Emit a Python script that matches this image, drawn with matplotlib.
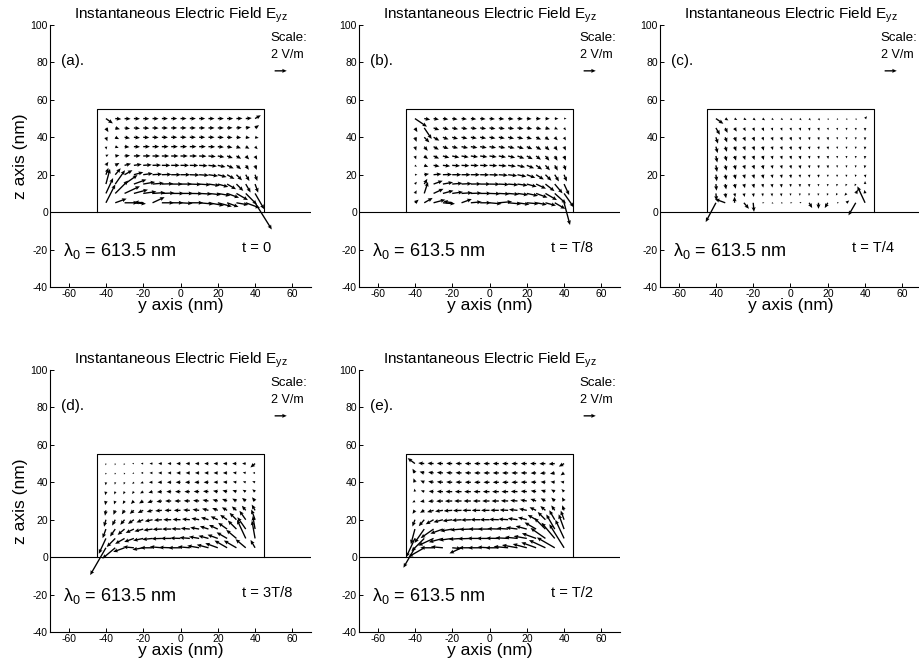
import numpy as np
import matplotlib.pyplot as plt

plt.rcParams['font.family'] = 'Liberation Sans'
plt.rcParams['mathtext.fontset'] = 'custom'
plt.rcParams['mathtext.rm'] = 'Liberation Sans'
plt.rcParams['axes.unicode_minus'] = False

# grid of the field samples inside the particle (nm)
y_cols = [-40, -35, -30, -25, -20, -15, -10, -5, 0, 5, 10, 15, 20, 25, 30, 35, 40]
z_rows = [50, 45, 40, 35, 30, 25, 20, 15, 10, 5]

# particle cross-section (nm)
box_y = [-45, 45]
box_z = [0, 55]

# field direction (deg, ccw from +y) and magnitude (V/m), rows from z=50 down to z=5
ang_a = [
    [-35, -5, -3, -2, -2, -1, 0, 0, 0, 0, 0, 0, 0, 0, 2, 5, 30],
    [-60, -15, -8, -5, -3, -2, -1, 0, 0, 0, 0, 0, 0, 2, 5, 10, 35],
    [-70, -25, -10, -5, -3, -2, -1, 0, 0, 0, 0, 0, -2, -3, -5, -8, -10],
    [-80, -20, -5, -2, 0, 0, 0, 0, 0, 0, 0, -2, -5, -10, -20, -30, -45],
    [30, 10, 5, 2, 1, 0, 0, 0, 0, 0, -2, -5, -10, -20, -30, -45, -60],
    [55, 30, 15, 8, 4, 2, 0, 0, 0, -1, -3, -6, -12, -25, -40, -55, -70],
    [70, 50, 30, 15, 8, 4, 2, 0, 0, -2, -4, -8, -15, -30, -45, -60, -70],
    [75, 55, 35, 20, 10, 5, 2, 0, 0, -2, -4, -8, -15, -30, -45, -60, -70],
    [65, 45, 25, 15, 8, 4, 2, 0, 0, -1, -3, -6, -10, -20, -30, -45, -60],
    [63, 20, 0, -5, 175, 25, 0, 0, -3, 0, -5, -10, -15, -20, -10, -20, -58],
]
mag_a = [
    [1.4, 1.0, 1.0, 1.0, 1.0, 1.0, 1.0, 1.0, 1.0, 1.0, 1.0, 1.0, 1.0, 1.0, 1.0, 1.0, 1.1],
    [0.8, 0.8, 0.9, 1.0, 1.0, 1.0, 1.0, 1.0, 1.0, 1.0, 1.0, 1.0, 1.0, 0.9, 0.9, 0.8, 0.8],
    [0.7, 0.7, 0.9, 1.0, 1.0, 1.0, 1.0, 1.0, 1.0, 1.0, 1.0, 1.0, 1.0, 0.9, 0.8, 0.7, 0.6],
    [0.5, 0.6, 0.8, 1.0, 1.1, 1.1, 1.1, 1.1, 1.1, 1.1, 1.1, 1.1, 1.0, 0.9, 0.8, 0.7, 0.6],
    [0.5, 0.7, 0.9, 1.1, 1.2, 1.2, 1.2, 1.2, 1.2, 1.2, 1.2, 1.2, 1.1, 1.0, 0.9, 0.8, 0.7],
    [0.7, 0.8, 1.1, 1.3, 1.4, 1.4, 1.4, 1.4, 1.4, 1.4, 1.4, 1.4, 1.3, 1.2, 1.0, 0.9, 0.8],
    [1.2, 1.4, 1.5, 1.6, 1.6, 1.6, 1.6, 1.6, 1.6, 1.6, 1.6, 1.6, 1.5, 1.4, 1.3, 1.2, 1.1],
    [2.6, 2.8, 2.6, 2.2, 2.0, 1.9, 1.9, 1.9, 1.9, 1.9, 1.9, 1.9, 1.8, 1.7, 1.6, 1.6, 1.5],
    [2.8, 3.0, 2.8, 2.4, 2.2, 2.1, 2.1, 2.1, 2.1, 2.1, 2.1, 2.1, 2.1, 2.1, 2.2, 2.6, 3.0],
    [3.4, 2.0, 2.2, 2.0, 1.5, 2.2, 2.0, 2.0, 2.0, 2.2, 2.4, 2.6, 2.4, 2.0, 2.0, 2.5, 5.2],
]

ang_b = [
    [-34, -10, -10, -8, -8, -6, -6, -5, -5, -5, -5, -4, -4, -3, -3, -2, 0],
    [-60, -56, -20, -15, -12, -10, -8, -8, -8, -8, -8, -8, -10, -12, -15, -25, -50],
    [-70, -45, -30, -20, -15, -12, -10, -10, -10, -10, -12, -14, -18, -25, -35, -45, -60],
    [-72, -50, -30, -20, -15, -12, -10, -10, -10, -12, -14, -18, -24, -32, -42, -55, -65],
    [-70, -40, -25, -15, -12, -10, -8, -8, -8, -10, -14, -20, -28, -38, -50, -60, -70],
    [-40, -20, -10, -6, -4, -3, -2, -2, -3, -5, -8, -14, -22, -35, -48, -60, -70],
    [0, 10, 5, 2, 0, 0, 0, -1, -2, -4, -7, -12, -20, -32, -45, -58, -68],
    [50, 60, 20, 10, 5, 3, 1, 0, -1, -3, -5, -8, -15, -25, -38, -50, -65],
    [60, 72, 25, 15, 8, 4, 2, 0, -2, -3, -5, -8, -12, -20, -30, -42, -55],
    [40, 30, 15, -5, 170, 20, 5, 0, -5, 5, -5, -8, -5, -10, -15, -30, -75],
]
mag_b = [
    [2.4, 1.0, 0.9, 0.9, 0.9, 0.9, 0.9, 0.9, 0.9, 0.9, 0.9, 0.9, 0.8, 0.8, 0.7, 0.6, 0.4],
    [0.8, 2.2, 1.0, 1.0, 1.0, 1.0, 1.0, 1.0, 1.0, 1.0, 1.0, 1.0, 0.9, 0.9, 0.8, 0.6, 0.5],
    [0.8, 1.2, 1.1, 1.0, 1.0, 1.0, 1.0, 1.0, 1.0, 1.0, 1.0, 1.0, 0.9, 0.9, 0.8, 0.7, 0.6],
    [0.7, 0.9, 1.0, 1.0, 1.0, 1.1, 1.1, 1.1, 1.1, 1.1, 1.1, 1.1, 1.0, 1.0, 0.9, 0.8, 0.7],
    [0.6, 0.8, 1.0, 1.1, 1.2, 1.2, 1.2, 1.2, 1.2, 1.2, 1.2, 1.2, 1.1, 1.0, 1.0, 0.9, 0.8],
    [0.4, 0.7, 1.0, 1.2, 1.3, 1.3, 1.3, 1.3, 1.3, 1.3, 1.3, 1.3, 1.3, 1.2, 1.1, 1.0, 0.9],
    [0.4, 0.8, 1.3, 1.5, 1.5, 1.5, 1.5, 1.5, 1.5, 1.5, 1.5, 1.5, 1.5, 1.5, 1.4, 1.3, 1.2],
    [0.5, 1.0, 1.6, 1.7, 1.7, 1.7, 1.7, 1.7, 1.7, 1.7, 1.7, 1.7, 1.7, 1.8, 1.9, 2.0, 2.0],
    [0.6, 2.0, 1.8, 1.8, 1.8, 1.8, 1.8, 1.8, 1.8, 1.8, 1.8, 1.8, 1.9, 2.0, 2.2, 2.5, 2.8],
    [0.8, 1.6, 2.0, 2.0, 1.5, 1.8, 1.8, 1.8, 2.0, 2.2, 2.2, 2.0, 2.0, 1.8, 1.8, 2.0, 3.8],
]

ang_c = [
    [-35, -30, -30, -30, -35, -35, -40, -40, -45, -45, -50, -50, -55, -55, -60, -60, 50],
    [-60, -65, -60, -60, -65, -65, -70, -70, -70, -70, -75, -75, -75, -80, -80, -85, -90],
    [-72, -70, -68, -68, -70, -70, -70, -72, -72, -75, -75, -78, -80, -80, -85, -88, -92],
    [-75, -72, -70, -70, -70, -72, -72, -72, -75, -75, -78, -80, -80, -82, -85, -90, -95],
    [-78, -74, -72, -72, -72, -72, -74, -74, -75, -76, -78, -80, -82, -84, -86, -90, -95],
    [-80, -76, -74, -72, -72, -74, -74, -75, -76, -78, -80, -82, -84, -86, -88, -95, -100],
    [-82, -78, -75, -74, -74, -75, -76, -78, -80, -82, -84, -86, -88, -90, -95, -100, -80],
    [-85, -80, -76, -75, -76, -78, -80, -82, -84, -86, -88, -90, -95, -100, -110, -120, 90],
    [-85, -80, -78, -78, -80, -82, -84, -86, -88, -90, -95, -100, -110, -120, -130, 60, 100],
    [-118, 160, 90, -50, -85, 0, -20, -10, 0, 20, -60, -90, -120, 0, 40, -120, 115],
]
mag_c = [
    [1.5, 0.6, 0.5, 0.5, 0.5, 0.5, 0.4, 0.4, 0.4, 0.4, 0.4, 0.4, 0.3, 0.3, 0.3, 0.3, 0.5],
    [1.3, 0.9, 0.7, 0.6, 0.6, 0.6, 0.5, 0.5, 0.5, 0.5, 0.5, 0.5, 0.4, 0.4, 0.4, 0.4, 0.5],
    [1.1, 0.9, 0.8, 0.7, 0.7, 0.6, 0.6, 0.6, 0.6, 0.5, 0.5, 0.5, 0.5, 0.4, 0.4, 0.4, 0.5],
    [1.1, 0.9, 0.8, 0.7, 0.7, 0.7, 0.6, 0.6, 0.6, 0.6, 0.5, 0.5, 0.5, 0.4, 0.4, 0.4, 0.5],
    [1.1, 0.9, 0.8, 0.7, 0.7, 0.7, 0.6, 0.6, 0.6, 0.6, 0.5, 0.5, 0.5, 0.4, 0.4, 0.4, 0.5],
    [1.1, 0.9, 0.8, 0.7, 0.7, 0.7, 0.6, 0.6, 0.6, 0.6, 0.5, 0.5, 0.5, 0.4, 0.4, 0.4, 0.5],
    [1.1, 0.9, 0.8, 0.7, 0.7, 0.7, 0.6, 0.6, 0.6, 0.5, 0.5, 0.5, 0.4, 0.4, 0.4, 0.4, 0.5],
    [1.1, 0.9, 0.8, 0.7, 0.7, 0.6, 0.6, 0.6, 0.5, 0.5, 0.5, 0.4, 0.4, 0.4, 0.4, 0.4, 0.5],
    [1.2, 0.8, 0.6, 0.6, 0.6, 0.5, 0.5, 0.5, 0.4, 0.4, 0.4, 0.4, 0.4, 0.4, 0.5, 0.7, 0.6],
    [3.6, 1.8, 1.0, 1.3, 1.5, 0.3, 0.3, 0.3, 0.3, 0.3, 1.0, 1.0, 1.0, 0.3, 0.6, 2.4, 3.0],
]

ang_d = [
    [-100, -100, -120, 180, 180, 180, 180, 180, 180, 180, 180, 180, 180, 180, 180, 180, -140],
    [-95, -100, -110, -150, 180, 180, 180, 180, 180, 180, 180, 180, 180, 180, 175, 170, 180],
    [-95, -100, -110, -130, -160, 180, 180, 180, 180, 180, 180, 180, 178, 175, 170, 165, 160],
    [-100, -105, -115, -130, -150, -165, -175, 180, 180, 180, 178, 175, 170, 165, 160, 150, 140],
    [-100, -110, -120, -135, -150, -162, -172, 180, 180, 178, 175, 170, 165, 158, 150, 140, 130],
    [-100, -112, -125, -140, -155, -165, -175, 180, 180, 176, 172, 165, 158, 150, 140, 130, 120],
    [-105, -118, -130, -145, -158, -168, -176, 180, 178, 175, 170, 163, 155, 145, 135, 125, 110],
    [-110, -125, -140, -155, -165, -172, -178, 180, 178, 175, 170, 162, 155, 145, 135, 125, 100],
    [-115, -135, -150, -160, -168, -174, -178, 180, 178, 175, 170, 165, 160, 150, 140, 115, 100],
    [-120, -140, -160, 175, -170, 180, 175, 178, 180, 175, 170, 165, 160, 150, 150, 140, 120],
]
mag_d = [
    [0.3, 0.3, 0.3, 0.3, 0.4, 0.5, 0.6, 0.6, 0.7, 0.7, 0.7, 0.7, 0.7, 0.7, 0.7, 0.6, 1.0],
    [0.3, 0.3, 0.3, 0.3, 0.4, 0.5, 0.6, 0.6, 0.7, 0.7, 0.7, 0.7, 0.7, 0.7, 0.6, 0.5, 0.4],
    [0.5, 0.4, 0.4, 0.4, 0.5, 0.6, 0.7, 0.7, 0.8, 0.8, 0.8, 0.8, 0.7, 0.7, 0.6, 0.5, 0.5],
    [0.6, 0.5, 0.5, 0.5, 0.6, 0.7, 0.8, 0.8, 0.9, 0.9, 0.9, 0.9, 0.8, 0.8, 0.7, 0.6, 0.6],
    [0.7, 0.6, 0.6, 0.7, 0.8, 0.9, 0.9, 1.0, 1.0, 1.0, 1.0, 1.0, 0.9, 0.9, 0.8, 0.8, 0.8],
    [0.9, 0.8, 0.8, 0.9, 1.0, 1.0, 1.1, 1.1, 1.1, 1.1, 1.1, 1.1, 1.0, 1.0, 1.0, 1.0, 1.1],
    [1.2, 1.1, 1.1, 1.2, 1.2, 1.3, 1.3, 1.3, 1.3, 1.3, 1.3, 1.3, 1.3, 1.4, 1.6, 1.8, 1.8],
    [1.6, 1.5, 1.5, 1.5, 1.5, 1.5, 1.5, 1.5, 1.5, 1.5, 1.5, 1.5, 1.6, 1.8, 2.0, 2.4, 2.2],
    [2.8, 2.0, 1.8, 1.7, 1.7, 1.7, 1.7, 1.7, 1.7, 1.7, 1.7, 1.7, 1.8, 2.0, 2.2, 3.4, 3.0],
    [5.2, 2.8, 2.0, 1.8, 1.8, 2.0, 2.0, 2.0, 2.0, 2.0, 2.0, 2.0, 2.2, 2.4, 2.4, 2.2, 1.5],
]

ang_e = [
    [143, 175, 177, 178, 178, 179, 180, 180, 180, 180, 180, 180, 180, 180, 182, 185, 210],
    [120, 165, 172, 175, 177, 178, 179, 180, 180, 180, 180, 180, 180, 182, 185, 190, 215],
    [110, 155, 170, 175, 177, 178, 179, 180, 180, 180, 180, 180, 178, 177, 175, 172, 170],
    [100, 160, 175, 178, 180, 180, 180, 180, 180, 180, 180, 178, 175, 170, 160, 150, 135],
    [210, 190, 185, 182, 181, 180, 180, 180, 180, 180, 178, 175, 170, 160, 150, 135, 120],
    [235, 210, 195, 188, 184, 182, 180, 180, 180, 179, 177, 174, 168, 155, 140, 125, 110],
    [250, 230, 210, 195, 188, 184, 182, 180, 180, 178, 176, 172, 165, 150, 135, 120, 110],
    [255, 235, 215, 200, 190, 185, 182, 180, 180, 178, 176, 172, 165, 150, 135, 120, 110],
    [245, 225, 205, 195, 188, 184, 182, 180, 180, 179, 177, 174, 170, 160, 145, 130, 115],
    [240, 210, 180, 175, 355, 205, 180, 180, 177, 180, 175, 170, 165, 160, 155, 150, 122],
]
mag_e = [
    [1.5, 1.0, 1.0, 1.0, 1.0, 1.0, 1.0, 1.0, 1.0, 1.0, 1.0, 1.0, 1.0, 1.0, 1.0, 1.0, 1.0],
    [0.8, 0.8, 0.9, 1.0, 1.0, 1.0, 1.0, 1.0, 1.0, 1.0, 1.0, 1.0, 1.0, 0.9, 0.9, 0.8, 0.7],
    [0.7, 0.7, 0.9, 1.0, 1.0, 1.0, 1.0, 1.0, 1.0, 1.0, 1.0, 1.0, 1.0, 0.9, 0.8, 0.7, 0.6],
    [0.5, 0.6, 0.8, 1.0, 1.1, 1.1, 1.1, 1.1, 1.1, 1.1, 1.1, 1.1, 1.0, 0.9, 0.8, 0.7, 0.6],
    [0.5, 0.7, 0.9, 1.1, 1.2, 1.2, 1.2, 1.2, 1.2, 1.2, 1.2, 1.2, 1.1, 1.0, 0.9, 0.8, 0.7],
    [0.7, 0.8, 1.1, 1.3, 1.4, 1.4, 1.4, 1.4, 1.4, 1.4, 1.4, 1.4, 1.3, 1.2, 1.1, 1.0, 0.9],
    [1.2, 1.4, 1.5, 1.6, 1.6, 1.6, 1.6, 1.6, 1.6, 1.6, 1.6, 1.6, 1.5, 1.6, 1.8, 1.8, 1.6],
    [2.6, 2.8, 2.6, 2.2, 2.0, 1.9, 1.9, 1.9, 1.9, 1.9, 1.9, 1.9, 1.9, 2.2, 2.6, 2.8, 2.6],
    [3.4, 3.0, 2.8, 2.4, 2.2, 2.1, 2.1, 2.1, 2.1, 2.1, 2.1, 2.1, 2.2, 2.5, 3.0, 3.4, 3.4],
    [3.8, 3.0, 2.2, 2.0, 1.5, 2.2, 2.0, 2.0, 2.0, 2.2, 2.4, 2.6, 2.4, 2.6, 3.0, 3.4, 4.6],
]

panel_tags = ['(a).', '(b).', '(c).', '(d).', '(e).']
time_labels = ['t = 0', 't = T/8', 't = T/4', 't = 3T/8', 't = T/2']
angles = [ang_a, ang_b, ang_c, ang_d, ang_e]
mags = [mag_a, mag_b, mag_c, mag_d, mag_e]

scale_value = 2.0   # V/m
nm_per_vm = 3.25    # arrow length in nm for 1 V/m

W, H = 920, 667
fig = plt.figure(figsize=(W / 100, H / 100), dpi=100)

# axes boxes in pixels: left, top
boxes = [(50, 25), (359, 25), (660, 25), (50, 370), (359, 370)]
aw, ah = 261, 262

Y, Z = np.meshgrid(y_cols, z_rows)
# scale_units='x' keeps lengths in y-axis nm (equal aspect) and lets explicit angles through
qkw = dict(scale_units='x', scale=1 / nm_per_vm, pivot='tail',
           width=0.0052, headwidth=3.0, headlength=3.4, headaxislength=3.0,
           color='black')

for k in range(5):
    px, py = boxes[k]
    ax = fig.add_axes([px / W, 1 - (py + ah) / H, aw / W, ah / H])
    ax.set_xlim(-70, 70)
    ax.set_ylim(-40, 100)

    for s in ['top', 'right']:
        ax.spines[s].set_visible(False)
    for s in ['left', 'bottom']:
        ax.spines[s].set_linewidth(0.8)
    ax.set_xticks([-60, -40, -20, 0, 20, 40, 60])
    ax.set_yticks([-40, -20, 0, 20, 40, 60, 80, 100])
    ax.tick_params(labelsize=7.5, length=3, width=0.7, direction='in', pad=1.5)

    # substrate line and particle outline
    ax.axhline(0, color='black', lw=0.8)
    ax.plot([box_y[0], box_y[0], box_y[1], box_y[1]],
            [box_z[0], box_z[1], box_z[1], box_z[0]], color='black', lw=0.8)

    m = np.array(mags[k])
    a = np.array(angles[k], dtype=float)
    ax.quiver(Y, Z, m, np.zeros_like(m), angles=a, **qkw)

    # scale arrow
    ax.quiver([50.5], [75.5], [scale_value], [0.0], angles=np.array([0.0]), **qkw)
    ax.text(48, 93, 'Scale:', fontsize=9.5, va='center', ha='left')
    ax.text(48.5, 84, '2 V/m', fontsize=9, va='center', ha='left')

    ax.text(-64, 81, panel_tags[k], fontsize=11, va='center', ha='left')
    ax.text(-63, -21, r'λ$_\mathregular{0}$ = 613.5 nm', fontsize=13, va='center', ha='left')
    ax.text(33, -19, time_labels[k], fontsize=10.5, va='center', ha='left')

    ax.set_title(r'Instantaneous Electric Field E$_\mathregular{yz}$', fontsize=11, pad=5)
    ax.set_xlabel('y axis (nm)', fontsize=12.5, labelpad=-1)
    if k in (0, 3):
        ax.set_ylabel('z axis (nm)', fontsize=12.5, labelpad=2)

fig.savefig('out.png', dpi=100)
